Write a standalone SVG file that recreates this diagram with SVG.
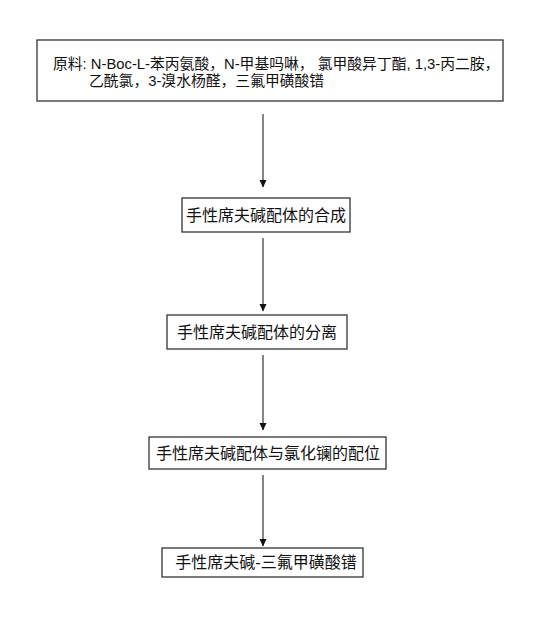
<svg xmlns="http://www.w3.org/2000/svg" width="546" height="618" viewBox="0 0 546 618">
<style>
.box{fill:#fff;stroke:#333;stroke-width:1.3}
.t{font-family:"Liberation Sans","Noto Sans CJK SC",sans-serif;fill:#111}
.c{font-size:16px;text-anchor:middle}
.s{font-size:14.8px}
.ln{stroke:#222;stroke-width:1.1;fill:none}
</style>
<defs>
<marker id="ah" markerWidth="8" markerHeight="9" refX="7" refY="3.5" orient="auto" markerUnits="userSpaceOnUse">
<path d="M0,0 L7.5,3.5 L0,7 Z" fill="#111"/>
</marker>
</defs>
<rect width="546" height="618" fill="#fff"/>
<g id="n1">
<rect class="box" x="37" y="40" width="466" height="61"/>
<text class="t s" x="53" y="69">原料: N-Boc-L-苯丙氨酸，N-甲基吗啉， 氯甲酸异丁酯, 1,3-丙二胺，</text>
<text class="t s" x="89" y="86">乙酰氯，3-溴水杨醛，三氟甲磺酸镨</text>
</g>
<g id="n2">
<rect class="box" x="182" y="198" width="168" height="34"/>
<text class="t c" x="266" y="221">手性席夫碱配体的合成</text>
</g>
<g id="n3">
<rect class="box" x="167" y="315" width="180" height="34"/>
<text class="t c" x="257" y="338">手性席夫碱配体的分离</text>
</g>
<g id="n4">
<rect class="box" x="149" y="437" width="237" height="32"/>
<text class="t c" x="268" y="459">手性席夫碱配体与氯化镧的配位</text>
</g>
<g id="n5">
<rect class="box" x="162" y="548" width="201" height="29"/>
<text class="t c" x="266" y="568">手性席夫碱-三氟甲磺酸镨</text>
</g>
<g id="edges">
<line class="ln" x1="263" y1="114" x2="263" y2="187" marker-end="url(#ah)"/>
<line class="ln" x1="263" y1="238" x2="263" y2="311" marker-end="url(#ah)"/>
<line class="ln" x1="263" y1="355" x2="263" y2="430" marker-end="url(#ah)"/>
<line class="ln" x1="263" y1="475" x2="263" y2="546" marker-end="url(#ah)"/>
</g>
</svg>
